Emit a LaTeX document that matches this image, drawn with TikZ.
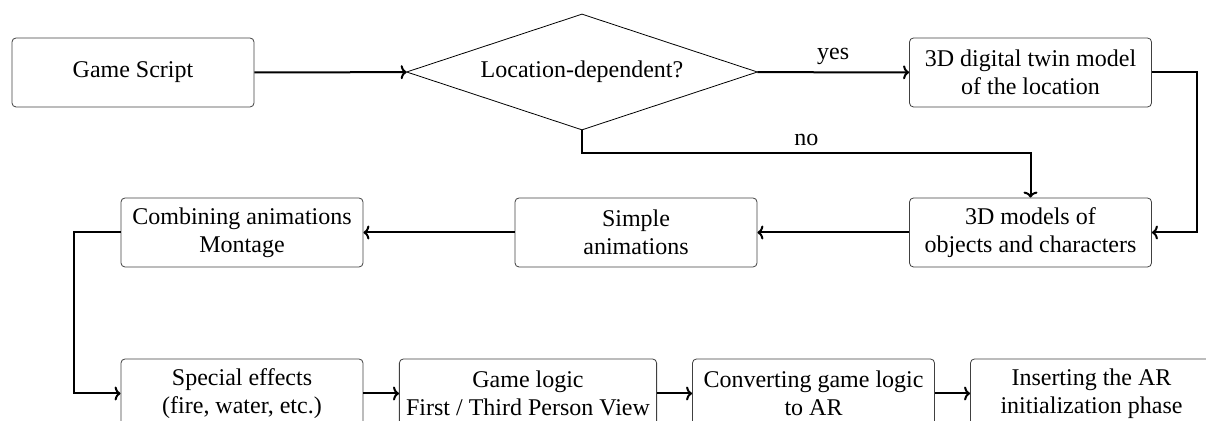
\documentclass[tikz,border=0pt]{standalone}
\usepackage{fontspec}
\setmainfont{Liberation Serif}
\usepackage{tikz}
\usetikzlibrary{arrows.meta,shapes.geometric}

\begin{document}
\begin{tikzpicture}[x=0.5pt, y=-0.5pt, font=\fontsize{12pt}{14pt}\selectfont,
  box/.style={draw=black!75, rounded corners=2pt, align=center, minimum width=121pt, minimum height=34.5pt},
  decide/.style={draw, diamond, aspect=3, inner sep=0pt, minimum width=175.5pt, minimum height=58pt},
  arr/.style={-{To[length=3pt,width=7pt]}, line width=1pt}]
\useasboundingbox (0,0) rectangle (1206,421);
\clip (0,0) rectangle (1206,421);
% top row
\node[box] (script) at (133,72.5) {Game Script};
\node[decide] (dec) at (582,72) {Location-dependent?};
\node[box] (twin) at (1030.5,72.5) {3D digital twin model\\of the location};
% middle row
\node[box] (models) at (1030.5,232.5) {3D models of\\objects and characters};
\node[box] (simple) at (636,232.5) {Simple\\animations};
\node[box] (combine) at (242,232.5) {Combining animations\\Montage};
% bottom row
\node[box] (effects) at (242,393.5) {Special effects\\(fire, water, etc.)};
\node[box] (logic) at (528,393.5) {Game logic\\First / Third Person View};
\node[box] (convert) at (813.5,393.5) {Converting game logic\\to AR};
\node[box] (insert) at (1091.5,393.5) {Inserting the AR\\initialization phase};
\draw[arr] (script) -- (dec);
\draw[arr] (dec) -- node[above] {yes} (twin);
\draw[arr] (dec.south) -- ++(0,23) -| node[pos=0.25, above] {no} (models.north);
\draw[arr] (twin.east) -- ++(45,0) |- (models.east);
\draw[arr] (models) -- (simple);
\draw[arr] (simple) -- (combine);
\draw[arr] (combine.west) -- ++(-47,0) |- (effects.west);
\draw[arr] (effects) -- (logic);
\draw[arr] (logic) -- (convert);
\draw[arr] (convert) -- (insert);
\end{tikzpicture}
\end{document}
